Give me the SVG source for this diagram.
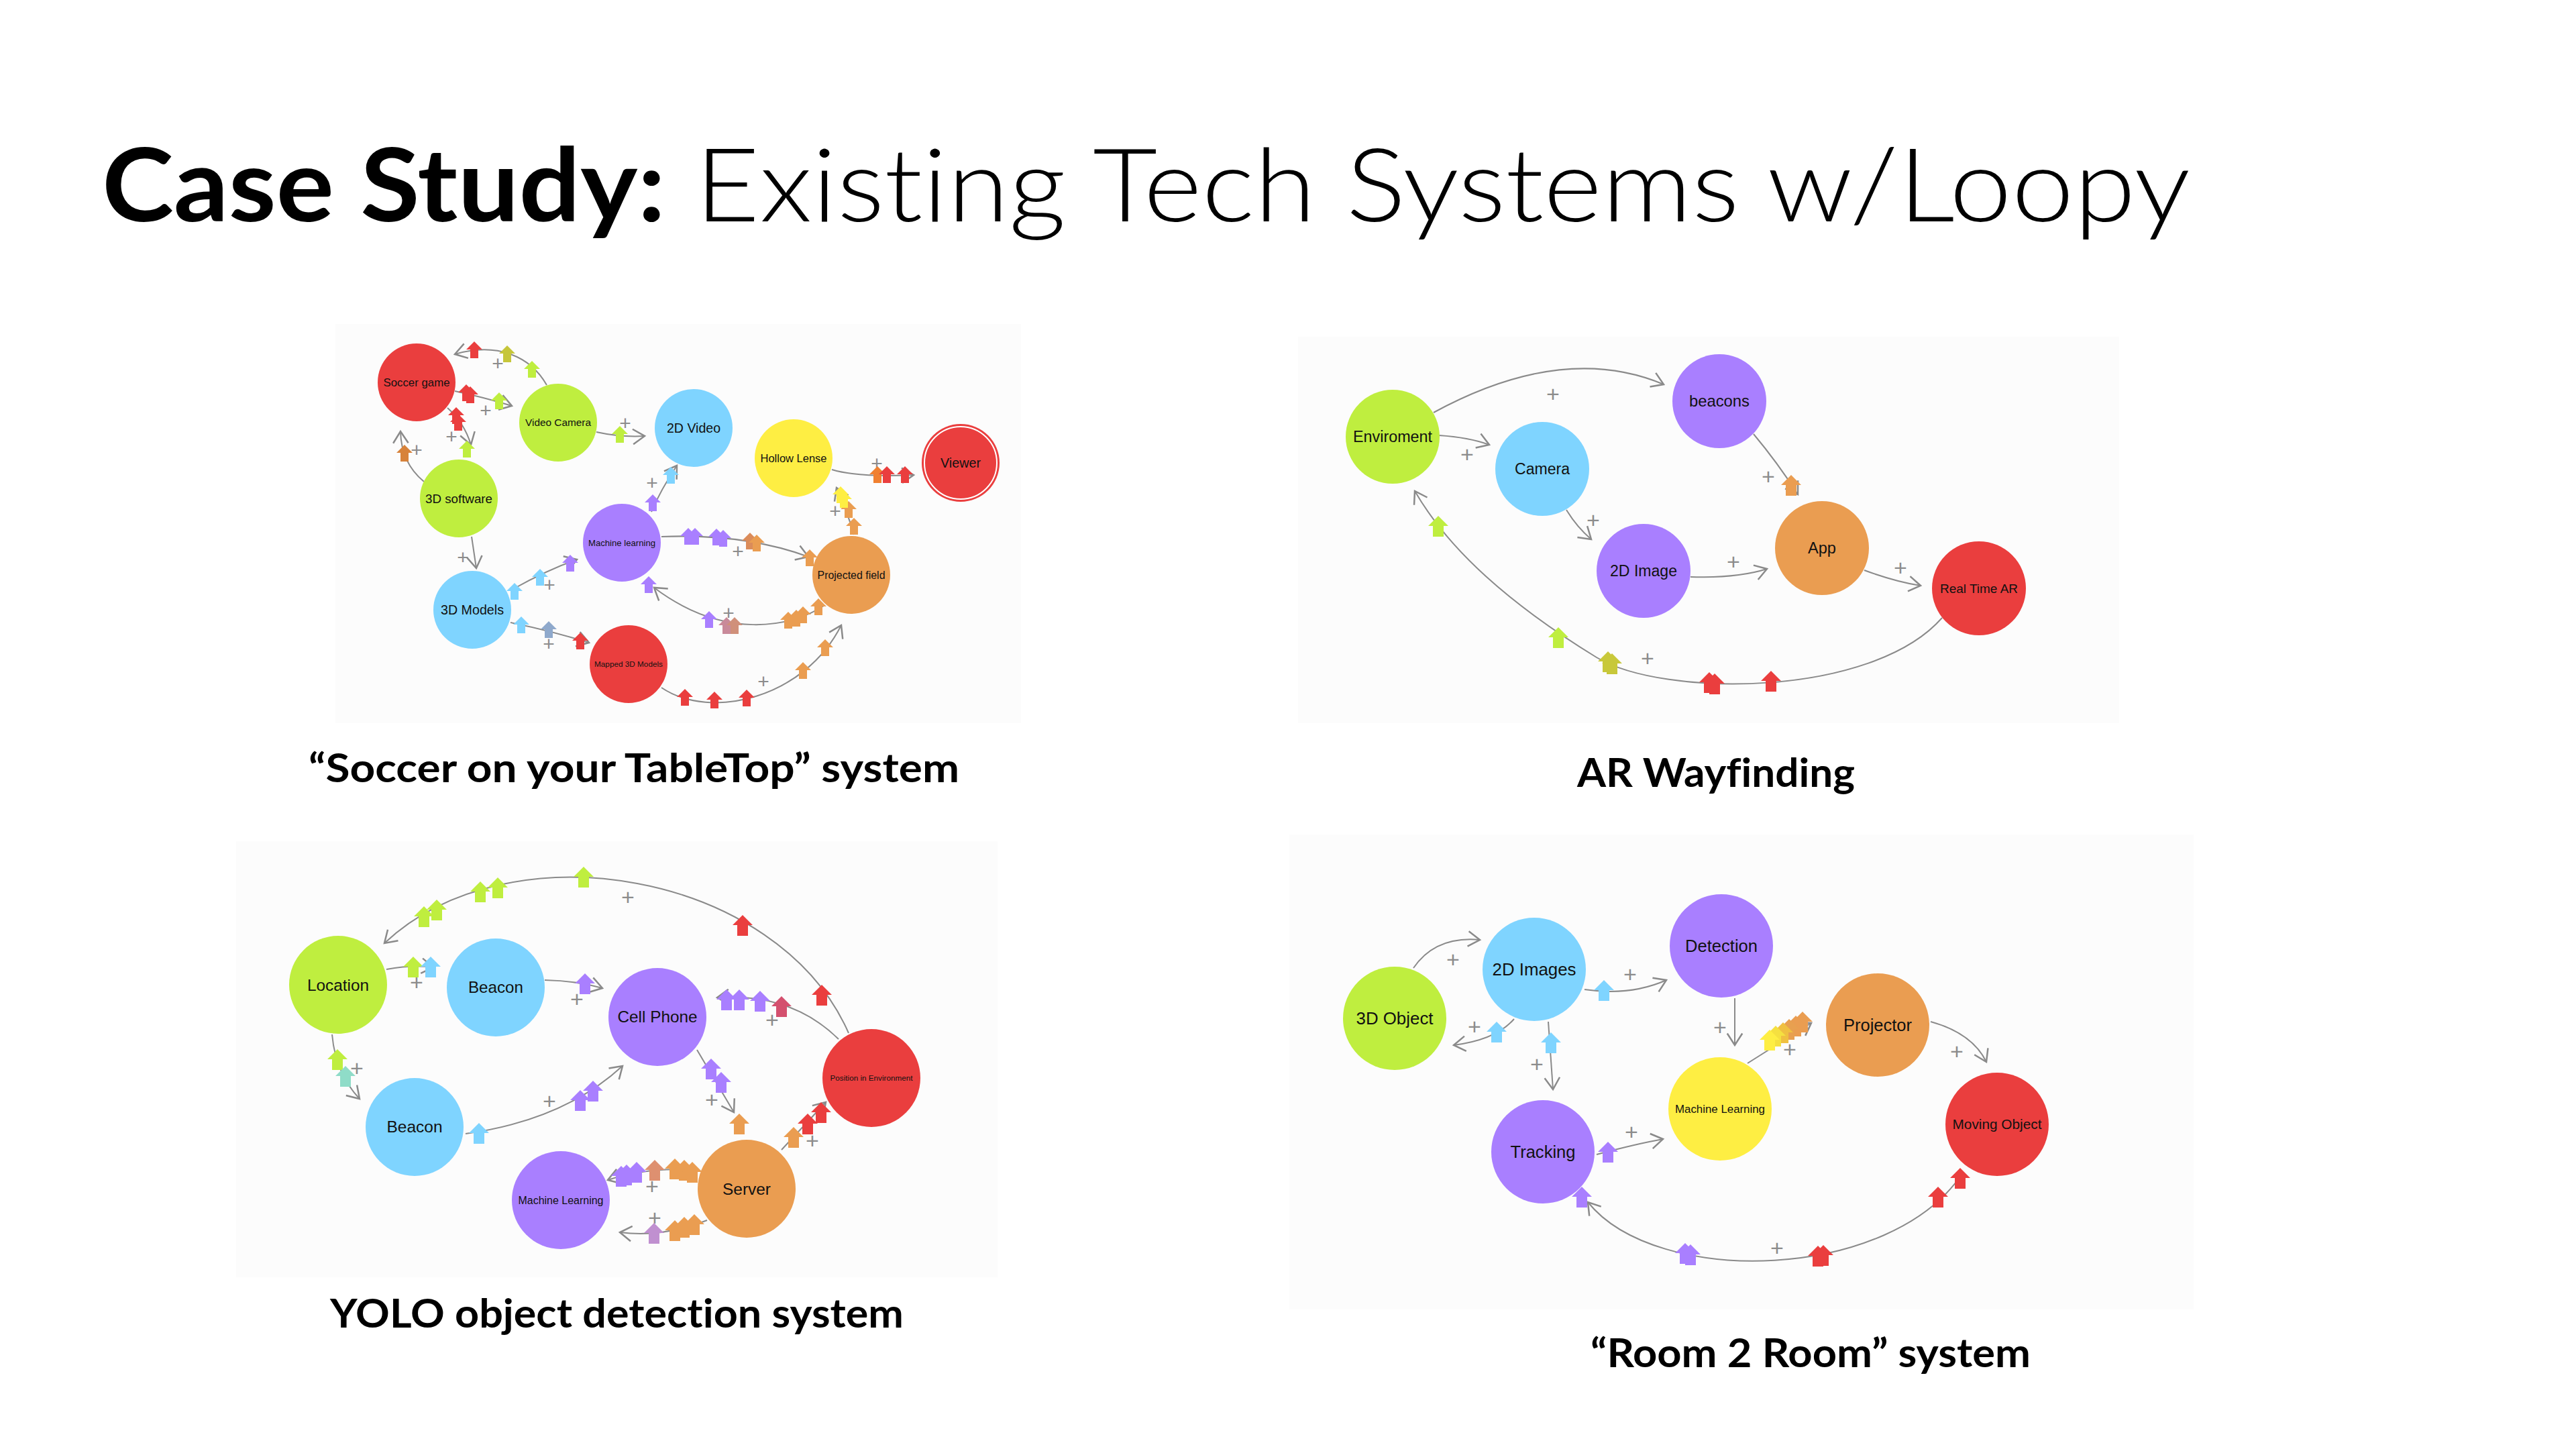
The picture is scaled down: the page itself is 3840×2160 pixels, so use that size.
<svg xmlns="http://www.w3.org/2000/svg" xmlns:xlink="http://www.w3.org/1999/xlink" width="3840" height="2160" viewBox="0 0 3840 2160">
<defs>
<style>
.bg{fill:#fcfcfc}
.lbl{font-family:"Liberation Sans",Arial,sans-serif;fill:#111;text-anchor:middle}
.plus{font-family:"Liberation Sans",Arial,sans-serif;font-size:30px;fill:#8c8c8c;text-anchor:middle}
.plus2{font-family:"Liberation Sans",Arial,sans-serif;font-size:34px;fill:#8c8c8c;text-anchor:middle}
.cap{font-family:Lato,"Liberation Sans",sans-serif;font-weight:700;font-size:60px;fill:#000;font-variant-ligatures:none}
.ttl{font-family:Lato,"Liberation Sans",sans-serif;font-size:152px;fill:#000;font-variant-ligatures:none}
.edge{fill:none;stroke:#8a8a8a;stroke-width:2;marker-end:url(#ah)}
.r{fill:#EA3E3E}.o{fill:#EA9D51}.y{fill:#FEEE43}.g{fill:#BFEE3F}.b{fill:#7FD4FF}.p{fill:#A97FFF}
</style>
<marker id="ah" markerUnits="userSpaceOnUse" markerWidth="30" markerHeight="30" viewBox="-16 -12 20 24" refX="0" refY="0" orient="auto">
<path d="M-14,-9 L0,0 L-14,9" fill="none" stroke="#8a8a8a" stroke-width="2"/>
</marker>
<path id="s" d="M0,-13 L12,-1 L6,-1 L6,12 L-6,12 L-6,-1 L-12,-1 Z"/>
<path id="t" d="M0,-16 L15,-1 L8,-1 L8,15 L-8,15 L-8,-1 L-15,-1 Z"/>
</defs>
<rect width="3840" height="2160" fill="#fff"/>

<g id="title">
<text class="ttl" x="152" y="330" font-weight="700" textLength="840" lengthAdjust="spacingAndGlyphs">Case Study:</text>
<text class="ttl" x="1036" y="330" font-weight="300" textLength="2229" lengthAdjust="spacingAndGlyphs">Existing Tech Systems w/Loopy</text>
</g>

<g id="panel-backgrounds">
<rect class="bg" x="500" y="483" width="1022" height="595"/>
<rect class="bg" x="1935" y="502" width="1224" height="576"/>
<rect class="bg" x="352" y="1254" width="1135" height="650"/>
<rect class="bg" x="1922" y="1244" width="1348" height="708"/>
</g>

<g id="captions">
<text class="cap" x="460" y="1166" textLength="970" lengthAdjust="spacingAndGlyphs">“Soccer on your TableTop” system</text>
<text class="cap" x="2351" y="1173" textLength="414" lengthAdjust="spacingAndGlyphs">AR Wayfinding</text>
<text class="cap" x="492" y="1979" textLength="855" lengthAdjust="spacingAndGlyphs">YOLO object detection system</text>
<text class="cap" x="2371" y="2038" textLength="656" lengthAdjust="spacingAndGlyphs">“Room 2 Room” system</text>
</g>

<g id="connectors">
<!-- panel 1 -->
<path class="edge" d="M815,574 C790,530 740,510 678,528"/>
<path class="edge" d="M678,583 Q720,592 763,605"/>
<path class="edge" d="M667,608 Q692,630 702,663"/>
<path class="edge" d="M632,718 Q598,690 597,643"/>
<path class="edge" d="M889,644 Q925,652 961,650"/>
<path class="edge" d="M703,800 L710,847"/>
<path class="edge" d="M765,878 Q815,850 860,834"/>
<path class="edge" d="M971,763 Q985,730 1009,694"/>
<path class="edge" d="M986,800 Q1110,795 1205,830"/>
<path class="edge" d="M1228,903 C1180,935 1080,955 975,876"/>
<path class="edge" d="M986,1025 C1060,1075 1200,1040 1254,932"/>
<path class="edge" d="M761,928 Q820,940 878,958"/>
<path class="edge" d="M1273,797 Q1262,760 1247,727"/>
<path class="edge" d="M1240,700 Q1280,712 1362,708"/>
<!-- panel 2 -->
<path class="edge" d="M2137,615 Q2330,510 2480,573"/>
<path class="edge" d="M2145,649 Q2190,652 2220,663"/>
<path class="edge" d="M2614,647 Q2650,690 2680,737"/>
<path class="edge" d="M2335,760 Q2350,785 2372,804"/>
<path class="edge" d="M2520,860 Q2590,862 2634,848"/>
<path class="edge" d="M2779,850 Q2825,867 2863,873"/>
<path class="edge" d="M2895,921 C2790,1040 2480,1040 2380,980 C2250,900 2160,820 2109,732"/>
<!-- panel 3 -->
<path class="edge" d="M1265,1540 C1160,1300 760,1230 573,1406"/>
<path class="edge" d="M576,1445 Q615,1438 646,1442"/>
<path class="edge" d="M812,1461 Q860,1462 898,1473"/>
<path class="edge" d="M495,1542 Q500,1600 536,1638"/>
<path class="edge" d="M694,1690 Q840,1670 928,1589"/>
<path class="edge" d="M1250,1549 Q1180,1480 1069,1487"/>
<path class="edge" d="M1039,1565 L1094,1658"/>
<path class="edge" d="M1165,1714 L1231,1643"/>
<path class="edge" d="M1043,1745 Q970,1738 906,1759"/>
<path class="edge" d="M1054,1819 Q990,1845 924,1837"/>
<!-- panel 4 -->
<path class="edge" d="M2107,1443 Q2140,1395 2206,1401"/>
<path class="edge" d="M2257,1519 Q2230,1550 2167,1558"/>
<path class="edge" d="M2362,1475 Q2430,1485 2484,1461"/>
<path class="edge" d="M2308,1523 L2315,1624"/>
<path class="edge" d="M2586,1488 L2586,1558"/>
<path class="edge" d="M2605,1585 L2700,1525"/>
<path class="edge" d="M2380,1721 Q2440,1705 2479,1698"/>
<path class="edge" d="M2878,1523 Q2940,1540 2961,1583"/>
<path class="edge" d="M2926,1748 C2820,1910 2470,1920 2367,1792"/>
</g>

<g id="plus-labels">
<text class="plus" x="742" y="552">+</text>
<text class="plus" x="724" y="622">+</text>
<text class="plus" x="673" y="661">+</text>
<text class="plus" x="621" y="681">+</text>
<text class="plus" x="932" y="641">+</text>
<text class="plus" x="690" y="841">+</text>
<text class="plus" x="819" y="882">+</text>
<text class="plus" x="972" y="730">+</text>
<text class="plus" x="1100" y="832">+</text>
<text class="plus" x="1086" y="924">+</text>
<text class="plus" x="1138" y="1026">+</text>
<text class="plus" x="818" y="970">+</text>
<text class="plus" x="1245" y="772">+</text>
<text class="plus" x="1307" y="701">+</text>

<text class="plus2" x="2315" y="599">+</text>
<text class="plus2" x="2187" y="689">+</text>
<text class="plus2" x="2636" y="722">+</text>
<text class="plus2" x="2375" y="787">+</text>
<text class="plus2" x="2584" y="849">+</text>
<text class="plus2" x="2833" y="858">+</text>
<text class="plus2" x="2456" y="993">+</text>

<text class="plus2" x="936" y="1349">+</text>
<text class="plus2" x="621" y="1476">+</text>
<text class="plus2" x="860" y="1501">+</text>
<text class="plus2" x="532" y="1604">+</text>
<text class="plus2" x="819" y="1653">+</text>
<text class="plus2" x="1151" y="1532">+</text>
<text class="plus2" x="1061" y="1651">+</text>
<text class="plus2" x="1211" y="1712">+</text>
<text class="plus2" x="972" y="1780">+</text>
<text class="plus2" x="976" y="1827">+</text>

<text class="plus2" x="2166" y="1442">+</text>
<text class="plus2" x="2198" y="1542">+</text>
<text class="plus2" x="2430" y="1464">+</text>
<text class="plus2" x="2291" y="1598">+</text>
<text class="plus2" x="2564" y="1543">+</text>
<text class="plus2" x="2668" y="1576">+</text>
<text class="plus2" x="2432" y="1699">+</text>
<text class="plus2" x="2917" y="1579">+</text>
<text class="plus2" x="2649" y="1872">+</text>
</g>

<g id="n-soccer-game"><circle class="r" cx="621" cy="570" r="58"/><text class="lbl" x="621" y="576" font-size="17" textLength="99" lengthAdjust="spacingAndGlyphs">Soccer game</text></g>
<g id="n-video-camera"><circle class="g" cx="832" cy="630" r="58"/><text class="lbl" x="832" y="635" font-size="15.4" textLength="98" lengthAdjust="spacingAndGlyphs">Video Camera</text></g>
<g id="n-2d-video"><circle class="b" cx="1034" cy="638" r="58"/><text class="lbl" x="1034" y="645" font-size="19.5" textLength="80" lengthAdjust="spacingAndGlyphs">2D Video</text></g>
<g id="n-hollow-lense"><circle class="y" cx="1183" cy="683" r="58"/><text class="lbl" x="1183" y="689" font-size="16.5" textLength="99" lengthAdjust="spacingAndGlyphs">Hollow Lense</text></g>
<g id="n-viewer"><circle class="r" cx="1432" cy="690" r="58"/><circle cx="1432" cy="690" r="54" fill="none" stroke="#fff" stroke-width="2"/><text class="lbl" x="1432" y="697" font-size="19.6" textLength="60" lengthAdjust="spacingAndGlyphs">Viewer</text></g>
<g id="n-3d-software"><circle class="g" cx="684" cy="743" r="58"/><text class="lbl" x="684" y="750" font-size="18.8" textLength="100" lengthAdjust="spacingAndGlyphs">3D software</text></g>
<g id="n-machine-learning-1"><circle class="p" cx="927" cy="809" r="58"/><text class="lbl" x="927" y="814" font-size="13.2" textLength="100" lengthAdjust="spacingAndGlyphs">Machine learning</text></g>
<g id="n-projected-field"><circle class="o" cx="1269" cy="857" r="58"/><text class="lbl" x="1269" y="863" font-size="16" textLength="101" lengthAdjust="spacingAndGlyphs">Projected field</text></g>
<g id="n-3d-models"><circle class="b" cx="704" cy="909" r="58"/><text class="lbl" x="704" y="916" font-size="19.6" textLength="94" lengthAdjust="spacingAndGlyphs">3D Models</text></g>
<g id="n-mapped-3d-models"><circle class="r" cx="937" cy="990" r="58"/><text class="lbl" x="937" y="994" font-size="11.6" textLength="102" lengthAdjust="spacingAndGlyphs">Mapped 3D Models</text></g>

<g id="n-enviroment"><circle class="g" cx="2076" cy="651" r="70"/><text class="lbl" x="2076" y="659" font-size="23.3" textLength="118" lengthAdjust="spacingAndGlyphs">Enviroment</text></g>
<g id="n-camera"><circle class="b" cx="2299" cy="699" r="70"/><text class="lbl" x="2299" y="707" font-size="23" textLength="82" lengthAdjust="spacingAndGlyphs">Camera</text></g>
<g id="n-beacons"><circle class="p" cx="2563" cy="598" r="70"/><text class="lbl" x="2563" y="606" font-size="23.8" textLength="90" lengthAdjust="spacingAndGlyphs">beacons</text></g>
<g id="n-2d-image"><circle class="p" cx="2450" cy="851" r="70"/><text class="lbl" x="2450" y="859" font-size="23" textLength="100" lengthAdjust="spacingAndGlyphs">2D Image</text></g>
<g id="n-app"><circle class="o" cx="2716" cy="817" r="70"/><text class="lbl" x="2716" y="825" font-size="23.6" textLength="42" lengthAdjust="spacingAndGlyphs">App</text></g>
<g id="n-real-time-ar"><circle class="r" cx="2950" cy="877" r="70"/><text class="lbl" x="2950" y="884" font-size="18.6" textLength="116" lengthAdjust="spacingAndGlyphs">Real Time AR</text></g>

<g id="n-location"><circle class="g" cx="504" cy="1468" r="73"/><text class="lbl" x="504" y="1477" font-size="24.5" textLength="92" lengthAdjust="spacingAndGlyphs">Location</text></g>
<g id="n-beacon-top"><circle class="b" cx="739" cy="1472" r="73"/><text class="lbl" x="739" y="1480" font-size="24.2" textLength="82" lengthAdjust="spacingAndGlyphs">Beacon</text></g>
<g id="n-cell-phone"><circle class="p" cx="980" cy="1516" r="73"/><text class="lbl" x="980" y="1524" font-size="24.3" textLength="119" lengthAdjust="spacingAndGlyphs">Cell Phone</text></g>
<g id="n-position"><circle class="r" cx="1299" cy="1607" r="73"/><text class="lbl" x="1299" y="1611" font-size="11.6" textLength="123" lengthAdjust="spacingAndGlyphs">Position in Environment</text></g>
<g id="n-beacon-bottom"><circle class="b" cx="618" cy="1680" r="73"/><text class="lbl" x="618" y="1688" font-size="24.2" textLength="83" lengthAdjust="spacingAndGlyphs">Beacon</text></g>
<g id="n-machine-learning-3"><circle class="p" cx="836" cy="1789" r="73"/><text class="lbl" x="836" y="1795" font-size="16" textLength="127" lengthAdjust="spacingAndGlyphs">Machine Learning</text></g>
<g id="n-server"><circle class="o" cx="1113" cy="1772" r="73"/><text class="lbl" x="1113" y="1781" font-size="24.6" textLength="72" lengthAdjust="spacingAndGlyphs">Server</text></g>

<g id="n-3d-object"><circle class="g" cx="2079" cy="1518" r="77"/><text class="lbl" x="2079" y="1527" font-size="25.9" textLength="115" lengthAdjust="spacingAndGlyphs">3D Object</text></g>
<g id="n-2d-images"><circle class="b" cx="2287" cy="1445" r="77"/><text class="lbl" x="2287" y="1454" font-size="25.9" textLength="125" lengthAdjust="spacingAndGlyphs">2D Images</text></g>
<g id="n-detection"><circle class="p" cx="2566" cy="1410" r="77"/><text class="lbl" x="2566" y="1419" font-size="25.7" textLength="108" lengthAdjust="spacingAndGlyphs">Detection</text></g>
<g id="n-projector"><circle class="o" cx="2799" cy="1528" r="77"/><text class="lbl" x="2799" y="1537" font-size="25.6" textLength="102" lengthAdjust="spacingAndGlyphs">Projector</text></g>
<g id="n-machine-learning-4"><circle class="y" cx="2564" cy="1653" r="77"/><text class="lbl" x="2564" y="1659" font-size="17" textLength="134" lengthAdjust="spacingAndGlyphs">Machine Learning</text></g>
<g id="n-tracking"><circle class="p" cx="2300" cy="1717" r="77"/><text class="lbl" x="2300" y="1726" font-size="25.3" textLength="97" lengthAdjust="spacingAndGlyphs">Tracking</text></g>
<g id="n-moving-object"><circle class="r" cx="2977" cy="1676" r="77"/><text class="lbl" x="2977" y="1683" font-size="20.8" textLength="133" lengthAdjust="spacingAndGlyphs">Moving Object</text></g>

<g id="signals">
<!-- panel 1 -->
<use href="#s" x="707" y="522" class="r"/>
<use href="#s" x="756" y="528" fill="#C6C63A"/>
<use href="#s" x="793" y="551" class="g"/>
<use href="#s" x="695" y="586" class="r"/>
<use href="#s" x="701" y="589" class="r"/>
<use href="#s" x="744" y="598" class="g"/>
<use href="#s" x="680" y="620" class="r"/>
<use href="#s" x="683" y="630" class="r"/>
<use href="#s" x="696" y="670" class="g"/>
<use href="#s" x="603" y="676" fill="#D7823A"/>
<use href="#s" x="924" y="648" class="g"/>
<use href="#s" x="767" y="882" class="b"/>
<use href="#s" x="805" y="861" class="b"/>
<use href="#s" x="850" y="840" class="p"/>
<use href="#s" x="973" y="750" class="p"/>
<use href="#s" x="1000" y="709" class="b"/>
<use href="#s" x="1026" y="800" class="p"/>
<use href="#s" x="1036" y="800" class="p"/>
<use href="#s" x="1068" y="801" class="p"/>
<use href="#s" x="1078" y="803" class="p"/>
<use href="#s" x="1118" y="807" fill="#DB8C5A"/>
<use href="#s" x="1128" y="810" class="o"/>
<use href="#s" x="1207" y="832" class="o"/>
<use href="#s" x="967" y="872" class="p"/>
<use href="#s" x="1057" y="924" class="p"/>
<use href="#s" x="1083" y="933" fill="#C98A9A"/>
<use href="#s" x="1095" y="933" fill="#D0907A"/>
<use href="#s" x="1175" y="925" class="o"/>
<use href="#s" x="1187" y="922" class="o"/>
<use href="#s" x="1197" y="917" class="o"/>
<use href="#s" x="1220" y="905" class="o"/>
<use href="#s" x="1021" y="1040" class="r"/>
<use href="#s" x="1065" y="1044" class="r"/>
<use href="#s" x="1113" y="1041" class="r"/>
<use href="#s" x="1197" y="1000" class="o"/>
<use href="#s" x="1230" y="966" class="o"/>
<use href="#s" x="777" y="932" class="b"/>
<use href="#s" x="818" y="939" fill="#8FA9CC"/>
<use href="#s" x="865" y="956" class="r"/>
<use href="#s" x="1273" y="785" class="o"/>
<use href="#s" x="1265" y="760" class="o"/>
<use href="#s" x="1258" y="745" class="y"/>
<use href="#s" x="1253" y="738" class="y"/>
<use href="#s" x="1308" y="708" fill="#F08030"/>
<use href="#s" x="1322" y="708" class="r"/>
<use href="#s" x="1349" y="708" class="r"/>
<!-- panel 2 -->
<use href="#t" x="2670" y="724" class="o"/>
<use href="#t" x="2144" y="785" class="g"/>
<use href="#t" x="2323" y="951" class="g"/>
<use href="#t" x="2397" y="987" fill="#C8C83A"/>
<use href="#t" x="2403" y="990" fill="#C8C83A"/>
<use href="#t" x="2548" y="1018" class="r"/>
<use href="#t" x="2556" y="1020" class="r"/>
<use href="#t" x="2640" y="1016" class="r"/>
<!-- panel 3 -->
<use href="#t" x="632" y="1367" class="g"/>
<use href="#t" x="651" y="1357" class="g"/>
<use href="#t" x="716" y="1330" class="g"/>
<use href="#t" x="742" y="1324" class="g"/>
<use href="#t" x="870" y="1308" class="g"/>
<use href="#t" x="1107" y="1380" class="r"/>
<use href="#t" x="1225" y="1484" class="r"/>
<use href="#t" x="616" y="1442" class="g"/>
<use href="#t" x="642" y="1442" class="b"/>
<use href="#t" x="872" y="1467" class="p"/>
<use href="#t" x="503" y="1580" class="g"/>
<use href="#t" x="515" y="1605" fill="#8FDCC8"/>
<use href="#t" x="714" y="1690" class="b"/>
<use href="#t" x="865" y="1641" class="p"/>
<use href="#t" x="884" y="1627" class="p"/>
<use href="#t" x="1083" y="1491" class="p"/>
<use href="#t" x="1102" y="1491" class="p"/>
<use href="#t" x="1133" y="1493" class="p"/>
<use href="#t" x="1165" y="1501" fill="#D4506E"/>
<use href="#t" x="1060" y="1594" class="p"/>
<use href="#t" x="1075" y="1614" class="p"/>
<use href="#t" x="1102" y="1676" class="o"/>
<use href="#t" x="1183" y="1696" class="o"/>
<use href="#t" x="1204" y="1676" class="r"/>
<use href="#t" x="1224" y="1659" class="r"/>
<use href="#t" x="926" y="1754" class="p"/>
<use href="#t" x="934" y="1752" class="p"/>
<use href="#t" x="949" y="1748" class="p"/>
<use href="#t" x="976" y="1745" fill="#DE9070"/>
<use href="#t" x="1006" y="1743" class="o"/>
<use href="#t" x="1020" y="1745" class="o"/>
<use href="#t" x="1032" y="1748" class="o"/>
<use href="#t" x="975" y="1839" fill="#C090D0"/>
<use href="#t" x="1006" y="1835" class="o"/>
<use href="#t" x="1020" y="1830" class="o"/>
<use href="#t" x="1035" y="1826" class="o"/>
<!-- panel 4 -->
<use href="#t" x="2231" y="1539" class="b"/>
<use href="#t" x="2391" y="1477" class="b"/>
<use href="#t" x="2312" y="1555" class="b"/>
<use href="#t" x="2687" y="1524" class="o"/>
<use href="#t" x="2677" y="1530" class="o"/>
<use href="#t" x="2667" y="1535" fill="#E8A050"/>
<use href="#t" x="2658" y="1540" fill="#F0C040"/>
<use href="#t" x="2647" y="1545" fill="#F5E040"/>
<use href="#t" x="2638" y="1551" class="y"/>
<use href="#t" x="2397" y="1718" class="p"/>
<use href="#t" x="2358" y="1785" class="p"/>
<use href="#t" x="2512" y="1869" class="p"/>
<use href="#t" x="2520" y="1871" class="p"/>
<use href="#t" x="2710" y="1873" class="r"/>
<use href="#t" x="2718" y="1872" class="r"/>
<use href="#t" x="2889" y="1785" class="r"/>
<use href="#t" x="2922" y="1757" class="r"/>
</g>
</svg>
